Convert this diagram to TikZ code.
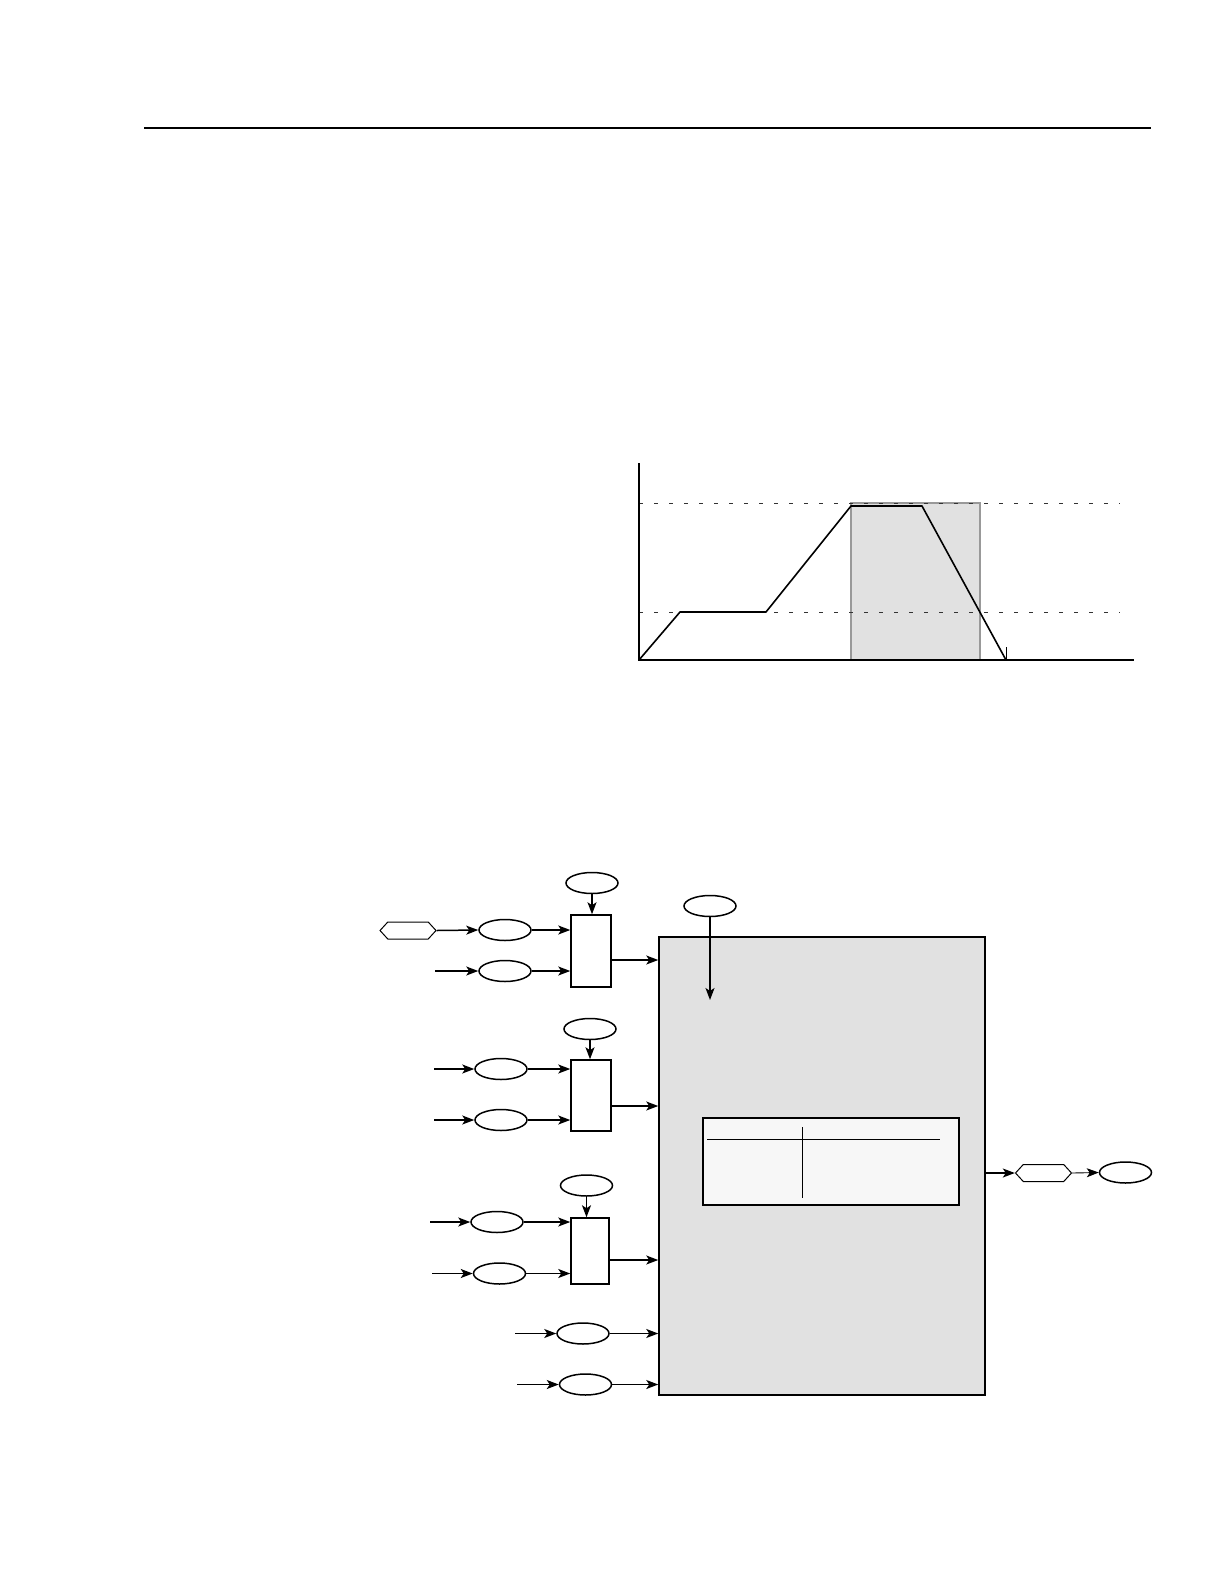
\documentclass[tikz,border=0pt]{standalone}
\usetikzlibrary{shapes.geometric,shapes.symbols,arrows.meta}
\definecolor{boxgray}{HTML}{E1E1E1}
\definecolor{tabfill}{HTML}{F7F7F7}
\begin{document}
\begin{tikzpicture}[x=1pt,y=-1pt,
  line width=1.5pt,
  arr/.style={-{Stealth[length=12pt,width=9pt,inset=3pt]}},
  oval/.style={draw,ellipse,minimum width=52pt,minimum height=21pt,inner sep=0pt,line width=1.5pt},
  hexa/.style={draw,signal,signal to=east and west,signal pointer angle=95,minimum width=56pt,minimum height=17pt,inner sep=0pt,line width=1pt},
  gate/.style={draw,rectangle,inner sep=0pt,line width=1.5pt,fill=white},
  dashln/.style={line width=0.8pt,gray!40!black,dash pattern=on 4pt off 11pt},
]
\useasboundingbox (0,0) rectangle (1224,1584);
% top rule
\draw[line width=1.2pt] (144,128) -- (1151,128);

% ---- chart ----
\draw[fill=boxgray,draw=gray!80,line width=1.3pt] (851,503) rectangle (980,660);
\draw[dashln] (639,503) -- (1120,503);
\draw[dashln] (639,612) -- (1120,612);
\draw[line width=1.2pt] (639,463) -- (639,660) -- (1134,660);
\draw[line width=1.6pt,line join=round] (639,660) -- (680,612) -- (766,612) -- (851,506) -- (922,506) -- (1006,660);
\draw[line width=1pt] (1006,647) -- (1006,660);

% ---- main box ----
\node[draw,rectangle,fill=boxgray,line width=1.5pt,minimum width=326pt,minimum height=458pt,inner sep=0pt] (main) at (822,1166) {};
\draw[fill=tabfill,line width=1.5pt] (703,1118) rectangle (959,1205);
\draw[line width=1pt] (707,1139) -- (940,1139);
\draw[line width=1pt] (802,1127) -- (802,1198);

\node[oval] (em) at (710,906) {};
\coordinate (emend) at (710,1000);
\draw[arr] (em.south) -- (emend);

% ---- group 1 ----
\node[oval] (e10) at (592,883) {};
\node[gate,minimum width=40pt,minimum height=72pt] (g1) at (591,951) {};
\node[oval] (e11) at (505,930) {};
\node[oval] (e12) at (505,971) {};
\node[hexa] (h1) at (408,930.5) {};
\coordinate (i12) at (435,971);
\draw[arr] (e10.south) -- (g1.north -| e10.south);
\draw[arr] (h1.east) -- (e11.west);
\draw[arr] (i12) -- (e12.west);
\draw[arr] (e11.east) -- (e11.east -| g1.west);
\draw[arr] (e12.east) -- (e12.east -| g1.west);
\draw[arr] (g1.east |- 0,960) -- (main.west |- 0,960);

% ---- group 2 ----
\node[oval] (e20) at (590,1029) {};
\node[gate,minimum width=40pt,minimum height=71pt] (g2) at (591,1095.5) {};
\node[oval] (e21) at (501,1069) {};
\node[oval] (e22) at (501,1120) {};
\coordinate (i21) at (434,1069);
\coordinate (i22) at (434,1120);
\draw[arr] (e20.south) -- (g2.north -| e20.south);
\draw[arr] (i21) -- (e21.west);
\draw[arr] (i22) -- (e22.west);
\draw[arr] (e21.east) -- (e21.east -| g2.west);
\draw[arr] (e22.east) -- (e22.east -| g2.west);
\draw[arr] (g2.east |- 0,1106) -- (main.west |- 0,1106);

% ---- group 3 ----
\node[oval] (e30) at (586.5,1185.5) {};
\node[gate,minimum width=38pt,minimum height=66pt] (g3) at (590,1251) {};
\node[oval] (e31) at (497,1222) {};
\node[oval] (e32) at (499.5,1273.5) {};
\coordinate (i31) at (430,1222);
\coordinate (i32) at (432,1273.5);
\draw[arr] (e30.south) -- (g3.north -| e30.south);
\draw[arr] (i31) -- (e31.west);
\draw[arr] (i32) -- (e32.west);
\draw[arr] (e31.east) -- (e31.east -| g3.west);
\draw[arr] (e32.east) -- (e32.east -| g3.west);
\draw[arr] (g3.east |- 0,1260) -- (main.west |- 0,1260);

% ---- group 4 ----
\node[oval] (e41) at (583,1333.5) {};
\node[oval] (e42) at (585.5,1384.5) {};
\coordinate (i41) at (515,1333.5);
\coordinate (i42) at (517,1384.5);
\draw[arr] (i41) -- (e41.west);
\draw[arr,line width=1pt] (i42) -- (e42.west);
\draw[arr] (e41.east) -- (e41.east -| main.west);
\draw[arr] (e42.east) -- (e42.east -| main.west);

% ---- output ----
\node[hexa] (h2) at (1043.5,1173) {};
\node[oval] (eo) at (1125.5,1172.5) {};
\draw[arr] (main.east |- h2.west) -- (h2.west);
\draw[arr,line width=0.9pt] (h2.east) -- (eo.west);
\end{tikzpicture}
\end{document}
